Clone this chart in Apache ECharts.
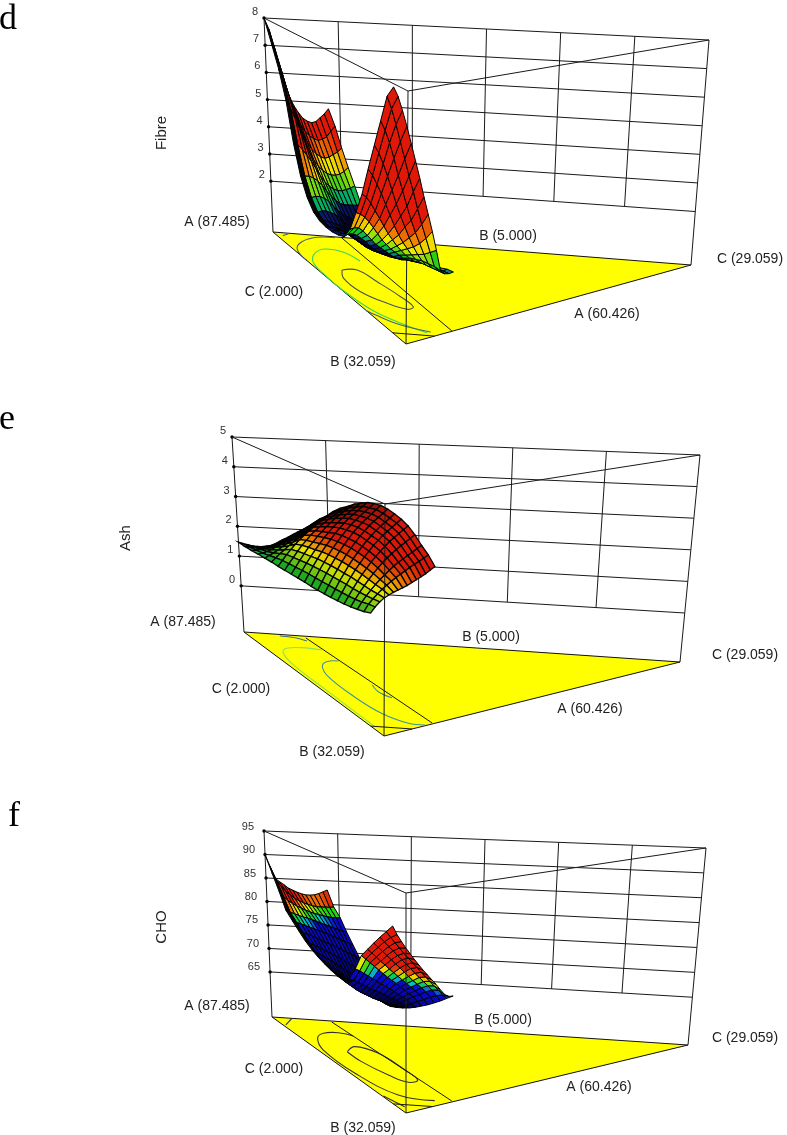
<!DOCTYPE html>
<html>
<head>
<meta charset="utf-8">
<style>html,body{margin:0;padding:0;background:#fff}#chart{width:787px;height:1135px}</style>
<script src="https://cdn.jsdelivr.net/npm/echarts@6/dist/echarts.min.js"></script>
</head>
<body>
<div id="chart"></div>
<script>
// surface heights: rows run from A corner to B corner, columns from near edge to far edge
var fibreZ = [
  [8,7.6,7,6.3,5.7,5.2,4.85,4.6,4.4,4.3,4.25,4.3,4.45,4.6,4.8],
  [7.2,6.8,6.25,5.65,5.1,4.65,4.3,4.05,3.9,3.8,3.75,3.8,3.9,4.1,4.3],
  [6.4,6,5.5,5,4.5,4.1,3.8,3.55,3.4,3.3,3.25,3.3,3.4,3.5,3.65],
  [5.4,5.1,4.75,4.35,3.95,3.6,3.3,3.1,2.95,2.85,2.8,2.8,2.85,2.95,3.1],
  [4,3.95,3.8,3.6,3.4,3.15,2.9,2.7,2.55,2.45,2.4,2.4,2.45,2.5,2.6],
  [3,3,3,2.95,2.85,2.7,2.5,2.35,2.2,2.1,2.05,2.05,2.05,2.05,2.1],
  [2.4,2.4,2.45,2.45,2.4,2.3,2.15,2,1.9,1.8,1.75,1.7,1.7,1.7,1.7],
  [2.05,2.05,2.1,2.1,2.05,2,1.9,1.75,1.65,1.55,1.5,1.45,1.4,1.35,1.35],
  [1.9,1.9,1.9,1.85,1.8,1.75,1.65,1.55,1.45,1.35,1.25,1.2,1.15,1.1,1.05],
  [1.85,1.85,1.85,1.8,1.75,1.65,1.55,1.45,1.35,1.25,1.2,1.15,1.1,1.05,1.05],
  [1.85,1.9,1.9,1.85,1.75,1.65,1.55,1.45,1.35,1.3,1.25,1.2,1.15,1.15,1.15],
  [1.9,1.95,1.95,1.9,1.8,1.7,1.6,1.5,1.4,1.35,1.3,1.25,1.2,1.2,1.2],
  [2,2.1,2.1,2.05,1.95,1.85,1.7,1.6,1.5,1.45,1.4,1.35,1.3,1.3,1.3],
  [2.4,2.45,2.45,2.35,2.2,2.05,1.9,1.8,1.7,1.6,1.5,1.45,1.4,1.4,1.4],
  [3.1,3.05,2.95,2.8,2.6,2.4,2.2,2.05,1.9,1.8,1.7,1.6,1.55,1.5,1.5],
  [3.85,3.75,3.55,3.3,3.05,2.8,2.55,2.35,2.15,2,1.85,1.75,1.65,1.6,1.6],
  [4.8,4.6,4.3,4,3.65,3.3,2.95,2.65,2.4,2.2,2,1.85,1.75,1.7,1.7],
  [5.7,5.45,5.1,4.7,4.25,3.8,3.4,3.05,2.7,2.4,2.15,1.95,1.8,1.75,1.75],
  [6.6,6.3,5.9,5.4,4.85,4.35,3.85,3.4,3,2.65,2.3,2,1.85,1.85,1.85],
  [7.5,7.1,6.6,6.05,5.5,4.95,4.45,3.9,3.4,2.95,2.5,2.05,1.9,1.9,1.95],
  [7.9,7.6,7.15,6.65,6.1,5.55,5,4.4,3.85,3.3,2.7,2.05,1.95,1.95,2]
]
var ashZ = [
  [1.47,1.43,1.4,1.37,1.36,1.36,1.38,1.41,1.47,1.55,1.64,1.72,1.81,1.89,1.98],
  [1.45,1.44,1.44,1.44,1.45,1.47,1.51,1.56,1.63,1.72,1.81,1.91,2,2.1,2.2],
  [1.45,1.47,1.5,1.53,1.57,1.62,1.68,1.75,1.83,1.92,2.02,2.12,2.23,2.34,2.45],
  [1.46,1.5,1.56,1.63,1.71,1.79,1.87,1.96,2.06,2.15,2.26,2.37,2.48,2.59,2.7],
  [1.46,1.55,1.64,1.74,1.85,1.95,2.05,2.15,2.26,2.37,2.48,2.58,2.69,2.8,2.9],
  [1.46,1.6,1.74,1.87,2,2.12,2.24,2.36,2.48,2.6,2.71,2.82,2.93,3.04,3.15],
  [1.45,1.64,1.83,2,2.17,2.32,2.46,2.59,2.72,2.83,2.95,3.05,3.15,3.25,3.35],
  [1.45,1.66,1.86,2.06,2.25,2.41,2.58,2.72,2.85,2.97,3.09,3.19,3.3,3.4,3.5],
  [1.45,1.67,1.89,2.1,2.3,2.47,2.65,2.8,2.96,3.09,3.23,3.34,3.45,3.56,3.67],
  [1.45,1.69,1.92,2.13,2.34,2.53,2.72,2.88,3.05,3.19,3.33,3.45,3.57,3.68,3.8],
  [1.45,1.7,1.94,2.17,2.39,2.59,2.78,2.96,3.13,3.28,3.43,3.55,3.67,3.8,3.92],
  [1.44,1.7,1.95,2.18,2.41,2.62,2.81,3,3.17,3.33,3.47,3.6,3.73,3.85,3.98],
  [1.44,1.7,1.96,2.19,2.42,2.63,2.83,3.01,3.2,3.35,3.5,3.63,3.76,3.89,4.02],
  [1.45,1.71,1.96,2.19,2.42,2.63,2.83,3.01,3.19,3.34,3.5,3.63,3.75,3.87,4],
  [1.46,1.71,1.96,2.18,2.41,2.61,2.8,2.98,3.15,3.3,3.45,3.58,3.7,3.82,3.95],
  [1.48,1.72,1.96,2.18,2.39,2.58,2.77,2.94,3.11,3.26,3.4,3.52,3.64,3.76,3.88],
  [1.5,1.73,1.95,2.16,2.36,2.54,2.72,2.88,3.04,3.18,3.32,3.43,3.55,3.66,3.77],
  [1.53,1.75,1.95,2.14,2.32,2.49,2.65,2.8,2.94,3.06,3.18,3.29,3.39,3.5,3.6],
  [1.57,1.78,1.96,2.12,2.28,2.42,2.55,2.68,2.8,2.91,3,3.1,3.19,3.29,3.38],
  [1.62,1.83,1.98,2.12,2.25,2.36,2.47,2.57,2.67,2.76,2.85,2.94,3.02,3.11,3.2],
  [1.69,1.86,2,2.11,2.19,2.26,2.32,2.38,2.44,2.52,2.6,2.68,2.76,2.86,2.96]
]
var choZ = [
  [90,87.6,85.1,84.4,83.8,83.1,82.7,82.3,82,81.8,81.8,81.9,82.2,82.6,83.05],
  [86.7,85.1,83.9,83,82.2,81.6,81.1,80.7,80.4,80.2,80,80,80,80,80.1],
  [83.6,82.5,81.7,81.1,80.6,80.2,79.8,79.5,79.2,79,78.8,78.6,78.5,78.5,78.5],
  [80.3,79.9,79.6,79.3,79,78.8,78.5,78.2,77.9,77.6,77.3,77,76.7,76.4,76.2],
  [78.8,78.5,78.2,77.9,77.6,77.3,77,76.7,76.4,76,75.7,75.3,74.9,74.6,74.2],
  [77.4,77.1,76.8,76.5,76.1,75.7,75.3,75,74.6,74.2,73.8,73.4,73,72.6,72.3],
  [76.1,75.7,75.3,74.9,74.5,74.1,73.7,73.2,72.8,72.3,71.9,71.4,71,70.5,70],
  [75.1,74.6,74.1,73.6,73.1,72.6,72.1,71.6,71,70.5,70,69.5,69,68.5,68],
  [74.3,73.7,73.1,72.5,71.9,71.3,70.7,70.1,69.5,69,68.5,68,67.5,67,66.6],
  [73.7,73.1,72.4,71.8,71.2,70.6,70,69.4,68.9,68.4,67.9,67.4,67,66.5,66],
  [73.2,72.6,72,71.4,70.8,70.2,69.7,69.2,68.7,68.2,67.8,67.4,67,66.5,66.1],
  [72.8,72.3,71.7,71.2,70.6,70.1,69.6,69.2,68.8,68.4,68,67.6,67.3,66.9,66.6],
  [72.6,72,71.4,70.8,70.3,69.9,69.5,69.1,68.8,68.5,68.2,68,67.8,67.5,67.2],
  [73.6,73.3,72.9,72.5,72.1,71.7,71.3,71,70.6,70.2,69.8,69.4,69,68.4,67.9],
  [76.2,75.8,75.3,74.8,74.3,73.8,73.3,72.8,72.3,71.8,71.2,70.7,70.2,69.4,68.7],
  [79.4,78.7,78,77.3,76.6,75.9,75.2,74.6,74,73.3,72.7,72,71.4,70.5,69.6],
  [81.2,80.5,79.7,78.9,78.2,77.4,76.7,76,75.3,74.6,73.9,73.2,72.5,71.5,70.5],
  [83,82.2,81.4,80.6,79.8,79,78.2,77.4,76.6,75.8,75.1,74.4,73.6,72.6,71.5],
  [84.7,83.8,82.9,82.1,81.2,80.4,79.5,78.7,77.8,77,76.2,75.4,74.6,73.5,72.5],
  [86.3,85.2,84.2,83.2,82.2,81.3,80.4,79.5,78.6,77.7,76.9,76,75.2,74.3,73.6],
  [87.9,86.3,85,83.8,82.7,81.6,80.6,79.6,78.7,77.8,76.9,75.9,75,74.6,74.65]
]

// colour offset per surface row: the front sheet is painted warmer than its height alone gives
var fibreRowTint = [0,0,0,0,0,0,0,0,0,0,0,0,.2,.5,.7,.8,.8,.7,.5,.2,0]
var ashRowTint = [0,0,0,0,0,0,0,0,0,0,0,0,0,0,0,0,0,0,0,0,0]
var choRowTint = [0,0,0,0,0,0,0,0,0,0,0,0,0,1,2.5,3.2,3.5,3.5,3.5,3.5,3.5]

var fibreTicks = [2, 3, 4, 5, 6, 7, 8]
var ashTicks = [0, 1, 2, 3, 4, 5]
var choTicks = [65, 70, 75, 80, 85, 90, 95]
var cornerLabels = ['A (87.485)', 'C (2.000)', 'B (32.059)', 'B (5.000)', 'A (60.426)', 'C (29.059)']

// floor contours as [B share, C share] of the floor triangle
var fibreContours = [
  { color: '#4a4f55', pts: [[.321,.063],[.309,.103],[.409,.119],[.538,.134],[.627,.136],[.657,.112],[.614,.078],[.52,.044],[.401,.0415],[.321,.063]] },
  { color: '#3fd45a', pts: [[.218,.139],[.142,.122],[.127,.084],[.174,.0455],[.264,.012],[.385,.002],[.519,.002],[.717,.022],[.875,.091]] },
  { color: '#4a5f75', pts: [[.008,.146],[.018,.099],[.073,.046],[.149,.0105],[.252,0]] },
  { color: '#4a5f75', pts: [[.03,.014],[.02,.022],[0,.04]] },
  { color: '#4a5f75', pts: [[.7,0],[.738,.011],[.817,.046],[.862,.103]] }
]
var ashContours = [
  { color: '#8ee05a', pts: [[.134,.135],[.124,.092],[.142,.052],[.181,.031],[.297,.014],[.571,.01],[.86,.009],[.905,.009]] },
  { color: '#3f8f9f', pts: [[.239,.14],[.254,.108],[.311,.08],[.412,.061],[.589,.058],[.761,.071],[.848,.105],[.854,.141]] },
  { color: '#3f8f9f', pts: [[.468,.144],[.535,.136],[.589,.15]] },
  { color: '#3f6f8f', pts: [[.016,.077],[.023,.11],[.05,.128]] }
]
var choContours = [
  { color: '#333', pts: [[.341,.071],[.277,.11],[.335,.148],[.506,.157],[.612,.153],[.645,.12],[.577,.094],[.444,.072],[.341,.071]] },
  { color: '#333', pts: [[.156,.145],[.129,.118],[.148,.076],[.21,.042],[.34,.014],[.583,.012],[.799,.046],[.836,.122]] },
  { color: '#333', pts: [[0,.048],[.081,.007]] },
  { color: '#333', pts: [[.822,.003],[.928,.02]] }
]

var panels = [
  {
    letter: 'd', letterPos: [8, 20], title: 'Fibre', titlePos: [162, 133],
    z: fibreZ, ticks: fibreTicks, contours: fibreContours, rowTint: fibreRowTint,
    stops: [1.7, 2, 2.2, 2.45, 3, 3.4, 3.9],
    colors: ['#050530', '#0a1a70', '#00a878', '#10c818', '#eeee00', '#f08000', '#e01808'],
    cellLine: 1, blackRows: 9, blackCols: 1, shade: null,
    zMin: 0.13, zMax: 8, divisions: 6, tickGap: 6, tickRise: 6,
    floor: [[273, 232], [406, 344], [691, 265]], top: [[264, 18], [408, 91], [709, 40]],
    mesh: [[0, 0], [0, .14], [.9, 0], [.836, .163]],
    strip: [[0, .163], [.836, .162]], stripEnd: [[.9, 0], [.9, .1]],
    labelPos: [[217, 222], [274, 292], [363, 362], [508, 236], [607, 314], [750, 259]],
    frontOver: false
  },
  {
    letter: 'e', letterPos: [7, 420], title: 'Ash', titlePos: [126, 538],
    z: ashZ, ticks: ashTicks, contours: ashContours, rowTint: ashRowTint,
    stops: [1, 1.2, 1.55, 2.2, 2.5, 2.85],
    colors: ['#0808c8', '#00c0d0', '#1aa820', '#e8e800', '#e87800', '#d81808'],
    cellLine: 1.3, blackRows: 0, blackCols: 0, shade: { fromCol: 7, untilRow: 15 },
    zMin: -1.55, zMax: 5, divisions: 5, tickGap: 6, tickRise: 6,
    floor: [[244, 632], [384, 736], [680, 662]], top: [[232, 437], [385, 504], [700, 455]],
    mesh: [[0, 0], [0, .14], [.905, 0], [.83, .165]],
    strip: [[.018, .136], [.827, .166]], stripEnd: [[.905, 0], [.905, .095]],
    labelPos: [[183, 622], [241, 689], [332, 752], [491, 637], [590, 709], [745, 655]],
    frontOver: true
  },
  {
    letter: 'f', letterPos: [14, 817], title: 'CHO', titlePos: [162, 927],
    z: choZ, ticks: choTicks, contours: choContours, rowTint: choRowTint,
    stops: [68, 73, 77.6, 78.3, 79.2, 80.1, 80.8, 81.6],
    colors: ['#020228', '#0606a0', '#0808d0', '#00c0d0', '#10d010', '#f0f000', '#f08000', '#e01808'],
    cellLine: 1, blackRows: 13, blackCols: 1, shade: null,
    zMin: 55.4, zMax: 95, divisions: 6, tickGap: 10, tickRise: 4.5,
    floor: [[272, 1017], [406, 1113], [688, 1045]], top: [[264, 831], [406, 893], [706, 848]],
    mesh: [[0, 0], [0, .14], [.905, 0], [.826, .166]],
    strip: [[.011, .14], [.826, .166]], stripEnd: [[.905, 0], [.905, .095]],
    labelPos: [[217, 1006], [274, 1069], [363, 1128], [503, 1020], [599, 1087], [745, 1038]],
    frontOver: true
  }
]

// floor triangle shares + height -> chart position
function project (p, b, c, z) {
  var a = 1 - b - c
  var f = (z - p.zMin) / (p.zMax - p.zMin)
  var fx = a * p.floor[0][0] + b * p.floor[1][0] + c * p.floor[2][0]
  var fy = a * p.floor[0][1] + b * p.floor[1][1] + c * p.floor[2][1]
  var tx = a * p.top[0][0] + b * p.top[1][0] + c * p.top[2][0]
  var ty = a * p.top[0][1] + b * p.top[1][1] + c * p.top[2][1]
  return [fx + f * (tx - fx), fy + f * (ty - fy)]
}

function meshNode (p, i, j) {
  var u = i / (p.z.length - 1)
  var v = j / (p.z[0].length - 1)
  var m = p.mesh
  var b = (1 - u) * ((1 - v) * m[0][0] + v * m[1][0]) + u * ((1 - v) * m[2][0] + v * m[3][0])
  var c = (1 - u) * ((1 - v) * m[0][1] + v * m[1][1]) + u * ((1 - v) * m[2][1] + v * m[3][1])
  return project(p, b, c, p.z[i][j])
}

function heightColor (p, z) {
  var s = p.stops
  if (z <= s[0]) return p.colors[0]
  for (var k = 1; k < s.length; k++) {
    if (z <= s[k]) {
      return echarts.color.lerp((k - 1 + (z - s[k - 1]) / (s[k] - s[k - 1])) / (s.length - 1), p.colors)
    }
  }
  return p.colors[p.colors.length - 1]
}

function cellColor (p, i, j, mean) {
  if (i < p.blackRows && j < p.blackCols) return '#050505'
  var col = heightColor(p, mean + p.rowTint[i])
  if (p.shade) {
    var last = p.z[0].length - 2
    var t = Math.max(0, (j - p.shade.fromCol) / (last - p.shade.fromCol)) * Math.max(0, 1 - i / p.shade.untilRow)
    if (t > 0) col = echarts.color.lerp(Math.min(t * 1.1, 0.9), [col, '#000000'])
  }
  return col
}

// one custom series per layer, items are polygons, polylines, circles and texts
function layer (items, zLevel) {
  return {
    type: 'custom',
    coordinateSystem: 'cartesian2d',
    silent: true,
    clip: false,
    z: zLevel,
    animation: false,
    data: items.map(function (it, i) { return [i, i] }),
    renderItem: function (params, api) {
      var it = items[params.dataIndex]
      if (it.text !== undefined) {
        var at = api.coord(it.at)
        return {
          type: 'text',
          x: at[0],
          y: at[1],
          rotation: it.rotate || 0,
          style: { text: it.text, font: it.font, fill: it.color || '#222', align: it.align || 'center', verticalAlign: 'middle' }
        }
      }
      if (it.dot) {
        var c = api.coord(it.dot)
        return { type: 'circle', shape: { cx: c[0], cy: c[1], r: 1.7 }, style: { fill: '#000' } }
      }
      var pts = it.pts.map(function (q) { return api.coord(q) })
      if (it.fill) {
        return { type: 'polygon', shape: { points: pts }, style: { fill: it.fill, stroke: it.stroke || '#000', lineWidth: it.width || 0.7 } }
      }
      return { type: 'polyline', shape: { points: pts, smooth: it.smooth || 0 }, style: { fill: null, stroke: it.stroke || '#1a1a1a', lineWidth: it.width || 1 } }
    }
  }
}

function panelSeries (p, idx) {
  var under = []
  var over = []
  var zLo = p.ticks[0]
  function seg (b1, c1, z1, b2, c2, z2) {
    return { pts: [project(p, b1, c1, z1), project(p, b2, c2, z2)] }
  }
  // floor
  under.push({ pts: [project(p, 0, 0, p.zMin), project(p, 1, 0, p.zMin), project(p, 0, 1, p.zMin)], fill: '#ffff00', stroke: '#111', width: 1 })
  p.contours.forEach(function (k) {
    under.push({ pts: k.pts.map(function (q) { return project(p, q[0], q[1], p.zMin) }), stroke: k.color, width: 1.1, smooth: 0.4 })
  })
  under.push(seg(p.strip[0][0], p.strip[0][1], p.zMin, p.strip[1][0], p.strip[1][1], p.zMin))
  under.push(seg(p.stripEnd[0][0], p.stripEnd[0][1], p.zMin, p.stripEnd[1][0], p.stripEnd[1][1], p.zMin))
  // wall grid
  under.push(seg(0, 0, p.zMin, 0, 0, p.zMax))
  under.push(seg(0, 1, p.zMin, 0, 1, p.zMax))
  p.ticks.forEach(function (t) {
    under.push(seg(0, 0, t, 0, 1, t))
    under.push({ dot: project(p, 0, 0, t) })
    var lp = project(p, 0, 0, t)
    under.push({ text: String(t), at: [lp[0] - p.tickGap, lp[1] - p.tickRise], align: 'right', font: '11px "Liberation Sans"', color: '#333' })
  })
  for (var k = 1; k < p.divisions; k++) {
    under.push(seg(0, k / p.divisions, zLo, 0, k / p.divisions, p.zMax))
  }
  // top frame
  under.push(seg(0, 0, p.zMax, 1, 0, p.zMax))
  under.push(seg(1, 0, p.zMax, 0, 1, p.zMax))
  var front = seg(1, 0, p.zMin, 1, 0, p.zMax)
  if (p.frontOver) over.push(front)
  else under.push(front)
  // surface, far cells first
  var surface = []
  for (var i = 0; i < p.z.length - 1; i++) {
    for (var j = p.z[0].length - 2; j >= 0; j--) {
      var mean = (p.z[i][j] + p.z[i + 1][j] + p.z[i][j + 1] + p.z[i + 1][j + 1]) / 4
      surface.push({
        pts: [meshNode(p, i, j), meshNode(p, i + 1, j), meshNode(p, i + 1, j + 1), meshNode(p, i, j + 1)],
        fill: cellColor(p, i, j, mean),
        width: p.cellLine
      })
    }
  }
  // texts
  cornerLabels.forEach(function (name, n) {
    over.push({ text: name, at: p.labelPos[n], font: '14px "Liberation Sans"', color: '#222' })
  })
  over.push({ text: p.title, at: p.titlePos, rotate: Math.PI / 2, font: '15px "Liberation Sans"', color: '#222' })
  over.push({ text: p.letter, at: p.letterPos, font: '36px "Liberation Serif"', color: '#000' })
  return [layer(under, 2 + idx * 3), layer(surface, 3 + idx * 3), layer(over, 4 + idx * 3)]
}

var seriesList = []
panels.forEach(function (p, idx) {
  seriesList = seriesList.concat(panelSeries(p, idx))
})

var chart = echarts.init(document.getElementById('chart'), null, { renderer: 'canvas' })
chart.setOption({
  animation: false,
  backgroundColor: '#fff',
  grid: { left: 0, right: 0, top: 0, bottom: 0 },
  xAxis: { type: 'value', min: 0, max: 787, show: false },
  yAxis: { type: 'value', min: 0, max: 1135, inverse: true, show: false },
  series: seriesList
})
</script>
</body>
</html>
